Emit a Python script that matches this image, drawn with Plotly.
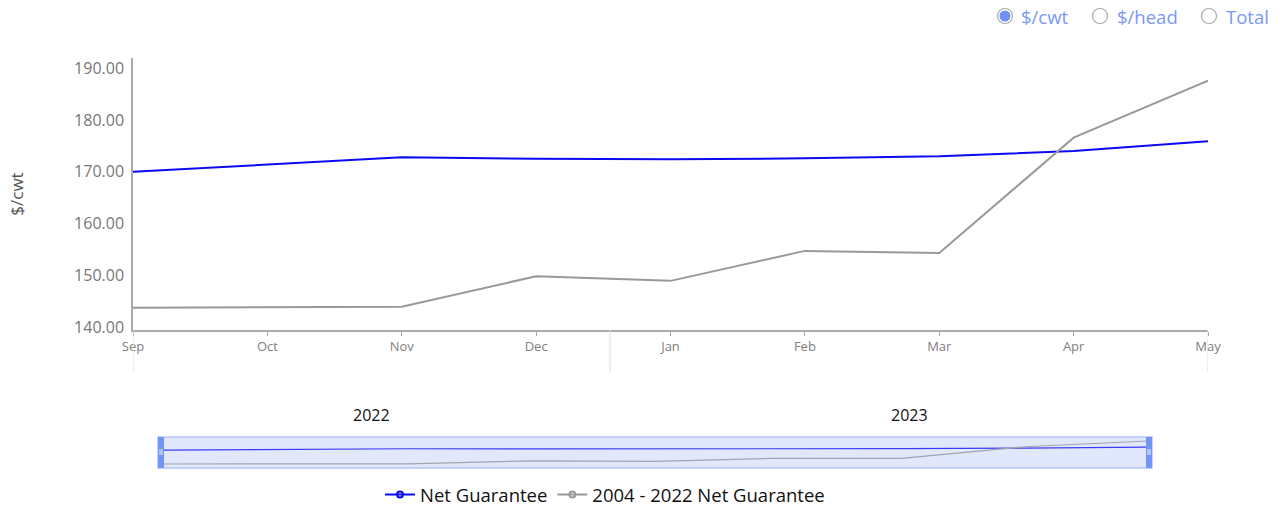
import plotly.graph_objects as go

months = ["Sep", "Oct", "Nov", "Dec", "Jan", "Feb", "Mar", "Apr", "May"]
net_guarantee = [170.0, 171.4, 172.8, 172.5, 172.4, 172.6, 173.0, 174.0, 175.9]
hist_net_guarantee = [143.7, 143.8, 143.9, 149.8, 148.9, 154.7, 154.3, 176.6, 187.6]
years = ["2022", "2023"]
units = ["$/cwt", "$/head", "Total"]

idx = list(range(len(months)))
BLUE = "#0a0af5"
GRAY = "#999999"
FONT = "Open Sans"

W, H = 1282, 508
L, R, T, B = 133, 74, 58, 0
PH = H - T - B  # paper height in px
PW = W - L - R


def py(ypx):
    return (H - B - ypx) / PH


def px(xpx):
    return (xpx - L) / PW


fig = go.Figure()

# main traces
fig.add_trace(go.Scatter(x=idx, y=net_guarantee, mode="lines", line=dict(color=BLUE, width=2),
                         showlegend=False, hoverinfo="skip", xaxis="x", yaxis="y"))
fig.add_trace(go.Scatter(x=idx, y=hist_net_guarantee, mode="lines", line=dict(color=GRAY, width=2),
                         showlegend=False, hoverinfo="skip", xaxis="x", yaxis="y"))
# mini (scrollbar) traces
fig.add_trace(go.Scatter(x=idx, y=net_guarantee, mode="lines", line=dict(color="#3a3af5", width=1.2),
                         showlegend=False, hoverinfo="skip", xaxis="x2", yaxis="y2"))
fig.add_trace(go.Scatter(x=idx, y=hist_net_guarantee, mode="lines", line=dict(color="#a0a4ad", width=1.2),
                         showlegend=False, hoverinfo="skip", xaxis="x2", yaxis="y2"))
# legend entries
fig.add_trace(go.Scatter(x=[None], y=[None], mode="lines+markers", name="Net Guarantee",
                         line=dict(color=BLUE, width=2),
                         marker=dict(symbol="circle-open", size=6, color=BLUE, line=dict(width=2))))
fig.add_trace(go.Scatter(x=[None], y=[None], mode="lines+markers", name="2004 - 2022 Net Guarantee",
                         line=dict(color=GRAY, width=2),
                         marker=dict(symbol="circle-open", size=6, color=GRAY, line=dict(width=2))))

main_bottom = py(330)
shapes = []
# year separators below axis
for xv in [0, 3.55, 8]:
    shapes.append(dict(type="line", xref="x", yref="paper", x0=xv, x1=xv, y0=py(372), y1=main_bottom,
                       line=dict(color="#dddddd", width=1)))
# scrollbar background
shapes.append(dict(type="rect", xref="paper", yref="paper", x0=px(158), x1=px(1152), y0=py(468), y1=py(437),
                   fillcolor="#e1e8fc", line=dict(color="#b4c5f8", width=1.5), layer="below"))
# handles
for x0, x1 in [(158, 164), (1146, 1152)]:
    shapes.append(dict(type="rect", xref="paper", yref="paper", x0=px(x0), x1=px(x1), y0=py(468), y1=py(437),
                       fillcolor="#7095f7", line=dict(width=0)))
    cx = (x0 + x1) / 2
    shapes.append(dict(type="rect", xref="paper", yref="paper", x0=px(cx - 2), x1=px(cx + 2), y0=py(455), y1=py(449),
                       fillcolor="#b0c4fb", line=dict(width=0)))

# radio buttons
annotations = []
radio_x = [1005, 1100, 1209]
label_x = [1019, 1115, 1224]
for i, (rx, lx, u) in enumerate(zip(radio_x, label_x, units)):
    shapes.append(dict(type="circle", xref="paper", yref="paper", xsizemode="pixel", ysizemode="pixel",
                       xanchor=px(rx), yanchor=py(16), x0=-7.5, x1=7.5, y0=-7.5, y1=7.5,
                       fillcolor="white", line=dict(color="#aaaaaa", width=1.2)))
    if i == 0:
        shapes.append(dict(type="circle", xref="paper", yref="paper", xsizemode="pixel", ysizemode="pixel",
                           xanchor=px(rx), yanchor=py(16), x0=-5.5, x1=5.5, y0=-5.5, y1=5.5,
                           fillcolor="#6f8ff5", line=dict(width=0)))
    annotations.append(dict(text=u, xref="paper", yref="paper", x=px(lx), y=py(16), xanchor="left",
                            yanchor="middle", showarrow=False, font=dict(family=FONT, size=18.5, color="#7b99f4")))

# year labels
for yr, xv in zip(years, [1.775, 5.775]):
    annotations.append(dict(text=yr, xref="x", yref="paper", x=xv, y=py(415), xanchor="center", yanchor="middle",
                            showarrow=False, font=dict(family=FONT, size=16, color="#111111")))

fig.update_layout(
    width=W, height=H,
    margin=dict(l=L, r=R, t=T, b=B, autoexpand=False),
    paper_bgcolor="white", plot_bgcolor="white",
    font=dict(family=FONT),
    xaxis=dict(domain=[0, 1], range=[0, 8], tickvals=idx, ticktext=months, showgrid=False, zeroline=False,
               showline=True, linecolor="#aaaaaa", linewidth=1.5, ticks="outside", ticklen=4, tickcolor="#aaaaaa",
               tickfont=dict(family=FONT, size=13, color="#808080"), anchor="y", fixedrange=True),
    yaxis=dict(domain=[main_bottom, 1], range=[139.4, 192.0], tickvals=[140, 150, 160, 170, 180, 190],
               tickformat=".2f", showgrid=False, zeroline=False, showline=True, linecolor="#aaaaaa", linewidth=1.5,
               ticks="", ticklabelstandoff=4, tickfont=dict(family=FONT, size=16, color="#777777"),
               title=dict(text="$/cwt", font=dict(family=FONT, size=17, color="#555555"), standoff=46),
               anchor="x", fixedrange=True),
    xaxis2=dict(domain=[px(158), px(1152)], range=[-0.032, 8.032], visible=False, anchor="y2", fixedrange=True),
    yaxis2=dict(domain=[py(467), py(437)], range=[138.0, 195.2], visible=False, anchor="x2", fixedrange=True),
    showlegend=True,
    legend=dict(orientation="h", x=px(380), y=py(495), xanchor="left", yanchor="middle",
                font=dict(family=FONT, size=18.5, color="#111111"), itemwidth=30, bgcolor="rgba(0,0,0,0)"),
    shapes=shapes,
    annotations=annotations,
)

fig.write_html("out.html", config={"displayModeBar": False},
               post_script="document.body.style.margin='0px';")
